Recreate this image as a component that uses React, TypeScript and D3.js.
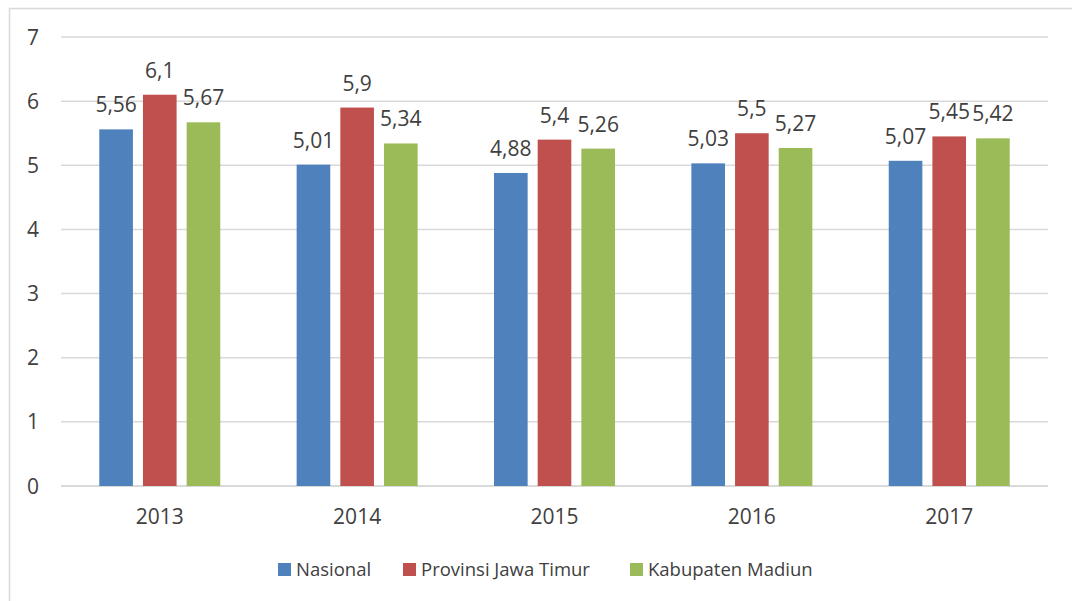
import React from "react";
import * as d3 from "d3";

const years = ["2013", "2014", "2015", "2016", "2017"];
const seriesNames = ["Nasional", "Provinsi Jawa Timur", "Kabupaten Madiun"];
const nasional = [5.56, 5.01, 4.88, 5.03, 5.07];
const provinsi = [6.1, 5.9, 5.4, 5.5, 5.45];
const kabupaten = [5.67, 5.34, 5.26, 5.27, 5.42];
const yTicks = [0, 1, 2, 3, 4, 5, 6, 7];
const colors = ["#4F81BD", "#C0504D", "#9BBB59"];

const W = 1072;
const H = 601;
const FONT = "'Open Sans', Lato, sans-serif";

export default function App() {
  const series = [nasional, provinsi, kabupaten];
  const left = 61;
  const right = 1048;
  const top = 37;
  const bottom = 486;

  const x0 = d3.scaleBand<string>().domain(years).range([left, right]).paddingInner(0.387).paddingOuter(0.194);
  const groupW = x0.bandwidth();
  const x1 = d3.scaleBand<string>().domain(seriesNames).range([0, groupW]).paddingInner(0.23);
  const y = d3.scaleLinear().domain([0, 7]).range([bottom, top]);

  const fmt = (v: number) => String(v).replace(".", ",");

  const legendX = [278, 403, 630];

  return (
    <svg width={W} height={H} style={{ position: "absolute", left: 0, top: 0, background: "#fff" }} fontFamily={FONT}>
      <rect x={0} y={0} width={W} height={H} fill="#fff" />
      {/* chart frame */}
      <line x1={9.5} x2={9.5} y1={8} y2={H} stroke="#D9D9D9" strokeWidth={1.5} />
      <line x1={9} x2={W} y1={8.5} y2={8.5} stroke="#D9D9D9" strokeWidth={1.5} />
      {/* grid */}
      {yTicks.map((t) => (
        <g key={t}>
          <line x1={left} x2={right} y1={y(t)} y2={y(t)} stroke="#D9D9D9" strokeWidth={t === 0 ? 2 : 1.5} />
          <text x={39} y={y(t) + 7.5} textAnchor="end" fontSize={21} fill="#404040">
            {t}
          </text>
        </g>
      ))}
      {/* bars */}
      {years.map((yr, i) => (
        <g key={yr} transform={`translate(${x0(yr)},0)`}>
          {series.map((s, j) => {
            const bx = x1(seriesNames[j])!;
            const bw = x1.bandwidth();
            return (
              <g key={j}>
                <rect x={bx} y={y(s[i])} width={bw} height={y(0) - y(s[i])} fill={colors[j]} />
                <text x={bx + bw / 2} y={y(s[i]) - 17} textAnchor="middle" fontSize={21} fill="#404040">
                  {fmt(s[i])}
                </text>
              </g>
            );
          })}
          <text x={groupW / 2} y={524} textAnchor="middle" fontSize={21} fill="#404040">
            {yr}
          </text>
        </g>
      ))}
      {/* legend */}
      {seriesNames.map((n, j) => (
        <g key={n}>
          <rect x={legendX[j]} y={563} width={13} height={13} fill={colors[j]} />
          <text x={legendX[j] + 18} y={576} fontSize={18.5} fill="#404040">
            {n}
          </text>
        </g>
      ))}
    </svg>
  );
}
